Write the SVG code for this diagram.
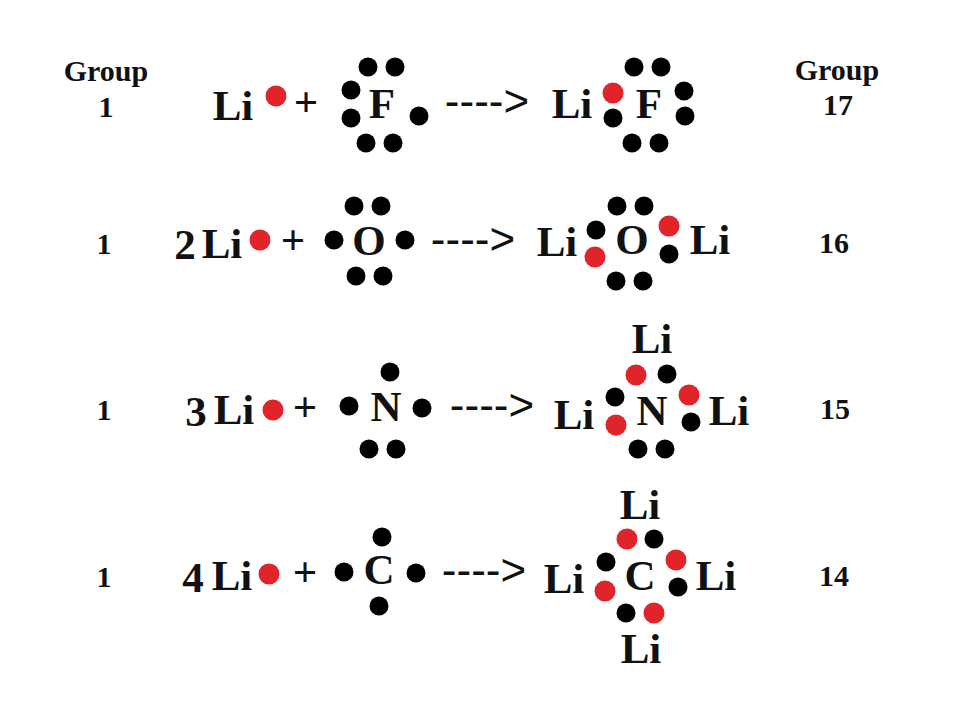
<svg xmlns="http://www.w3.org/2000/svg" width="960" height="720" viewBox="0 0 960 720">
<style>
text{font-family:"Liberation Serif","Times New Roman",serif;font-weight:bold;fill:#111;text-anchor:middle}
.a{font-size:43px}.g{font-size:30px}
.k{fill:#000}.r{fill:#e0242a}
.arrow{font-family:"Liberation Sans",sans-serif;font-weight:normal;font-size:44px}
</style>
<defs><circle id="k" r="9.5" class="k"/><circle id="r" r="10.5" class="r"/></defs>
<rect width="960" height="720" fill="#fff"/>
<g id="labels">
<text class="g" x="106" y="81">Group</text><text class="g" x="106" y="117">1</text>
<text class="g" x="837" y="80">Group</text><text class="g" x="838" y="115">17</text>
<text class="g" x="104" y="254">1</text><text class="g" x="834" y="253">16</text>
<text class="g" x="104" y="420">1</text><text class="g" x="835" y="419">15</text>
<text class="g" x="104" y="587">1</text><text class="g" x="834" y="586">14</text>
</g>
<g id="row1">
<text class="a" x="233" y="120">Li</text><use href="#r" x="276" y="96"/><text class="a" x="306" y="116">+</text>
<text class="a" x="382" y="118">F</text>
<use href="#k" x="368" y="67"/><use href="#k" x="395" y="67"/><use href="#k" x="351" y="90"/><use href="#k" x="351" y="118"/><use href="#k" x="419" y="116"/><use href="#k" x="366" y="143"/><use href="#k" x="393" y="143"/>
<text class="arrow" x="487" y="116">----&gt;</text>
<text class="a" x="572" y="118">Li</text><use href="#r" x="613" y="93"/><use href="#k" x="613" y="118"/><text class="a" x="649" y="118">F</text>
<use href="#k" x="634" y="67"/><use href="#k" x="661" y="67"/><use href="#k" x="684" y="91"/><use href="#k" x="685" y="116"/><use href="#k" x="632" y="143"/><use href="#k" x="659" y="143"/>
</g>
<g id="row2">
<text class="a" x="185" y="259">2</text><text class="a" x="222" y="258">Li</text><use href="#r" x="260" y="240"/><text class="a" x="293" y="254">+</text>
<text class="a" x="369" y="255">O</text>
<use href="#k" x="354" y="206"/><use href="#k" x="381" y="206"/><use href="#k" x="334" y="240"/><use href="#k" x="405" y="240"/><use href="#k" x="356" y="276"/><use href="#k" x="383" y="276"/>
<text class="arrow" x="473" y="254">----&gt;</text>
<text class="a" x="557" y="256">Li</text><use href="#k" x="596" y="230"/><use href="#r" x="595" y="257"/><text class="a" x="632" y="254">O</text>
<use href="#k" x="617" y="206"/><use href="#k" x="644" y="206"/><use href="#r" x="669" y="226"/><use href="#k" x="669" y="254"/><use href="#k" x="616" y="281"/><use href="#k" x="643" y="281"/>
<text class="a" x="710" y="254">Li</text>
</g>
<g id="row3">
<text class="a" x="196" y="426">3</text><text class="a" x="234" y="424">Li</text><use href="#r" x="273" y="410"/><text class="a" x="305" y="421">+</text>
<text class="a" x="386" y="421">N</text>
<use href="#k" x="390" y="372"/><use href="#k" x="349" y="406"/><use href="#k" x="422" y="408"/><use href="#k" x="369" y="449"/><use href="#k" x="396" y="449"/>
<text class="arrow" x="492" y="420">----&gt;</text>
<text class="a" x="652" y="353">Li</text>
<use href="#r" x="636" y="375"/><use href="#k" x="667" y="374"/>
<text class="a" x="574" y="429">Li</text><use href="#k" x="615" y="397"/><use href="#r" x="616" y="425"/><text class="a" x="652" y="425">N</text>
<use href="#r" x="689" y="395"/><use href="#k" x="691" y="422"/><text class="a" x="729" y="425">Li</text>
<use href="#k" x="638" y="449"/><use href="#k" x="665" y="449"/>
</g>
<g id="row4">
<text class="a" x="193" y="592">4</text><text class="a" x="232" y="590">Li</text><use href="#r" x="269" y="574"/><text class="a" x="305" y="586">+</text>
<text class="a" x="379" y="584">C</text>
<use href="#k" x="382" y="537"/><use href="#k" x="344" y="572"/><use href="#k" x="416" y="573"/><use href="#k" x="379" y="606"/>
<text class="arrow" x="484" y="585">----&gt;</text>
<text class="a" x="640" y="519">Li</text>
<use href="#r" x="627" y="539"/><use href="#k" x="654" y="539"/>
<text class="a" x="564" y="593">Li</text><use href="#k" x="606" y="562"/><use href="#r" x="605" y="591"/><text class="a" x="640" y="590">C</text>
<use href="#r" x="676" y="560"/><use href="#k" x="678" y="587"/><text class="a" x="716" y="590">Li</text>
<use href="#k" x="626" y="613"/><use href="#r" x="654" y="613"/>
<text class="a" x="641" y="663">Li</text>
</g>
</svg>
